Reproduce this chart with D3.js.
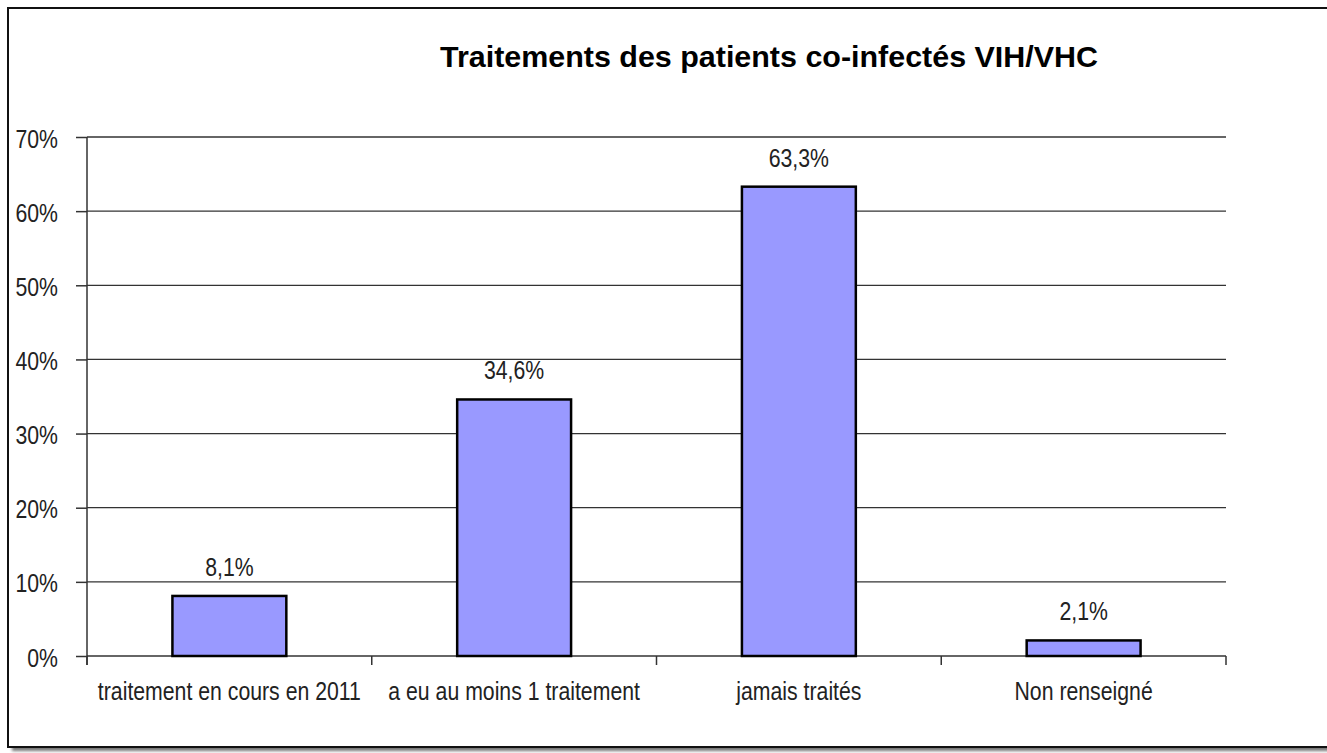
<!DOCTYPE html>
<html>
  <head>
    <meta charset="utf-8">
    <title>Traitements des patients co-infectés VIH/VHC</title>
    <script src="https://d3js.org/d3.v7.min.js"></script>
    <style>
      body { margin: 0; background: white; }
      svg { display: block; font-family: "Liberation Sans", Arial, sans-serif; }
      .grid line { stroke: #333; stroke-width: 1.3; }
      .axis path, .axis line { stroke: #333; stroke-width: 1.5; }
      .axis text { fill: #222; font-size: 25px; }
      .bar { fill: #9999FF; stroke: #000; stroke-width: 2.5; }
      .val { fill: #222; font-size: 25px; text-anchor: middle; }
    </style>
  </head>
  <body>
    <svg id="chart" width="1327" height="753"></svg>
    <script>
      // data
      const categories = ["traitement en cours en 2011", "a eu au moins 1 traitement", "jamais traités", "Non renseigné"];
      const values = [8.1, 34.6, 63.3, 2.1];
      const yTicks = [0, 10, 20, 30, 40, 50, 60, 70];
      const chartTitle = "Traitements des patients co-infectés VIH/VHC";

      const svg = d3.select("#chart");
      const plotLeft = 87, plotRight = 1226, plotTop = 137, plotBottom = 656;
      const squeeze = 0.85;

      // frame with shadow
      const defs = svg.append("defs");
      defs.append("filter").attr("id", "blur")
        .append("feGaussianBlur").attr("stdDeviation", 1.5);
      svg.append("rect")
        .attr("x", 12).attr("y", 12).attr("width", 1340).attr("height", 739)
        .attr("fill", "#777").attr("filter", "url(#blur)");
      svg.append("rect")
        .attr("x", 8).attr("y", 8).attr("width", 1340).attr("height", 739)
        .attr("fill", "white").attr("stroke", "#111").attr("stroke-width", 2);

      // scales
      const x = d3.scaleBand().domain(categories).range([plotLeft, plotRight]).padding(0);
      const y = d3.scaleLinear().domain([0, 70]).range([plotBottom, plotTop]);
      const barW = x.bandwidth() * 0.4;

      // gridlines
      svg.append("g").attr("class", "grid")
        .selectAll("line")
          .data(yTicks.filter(function(d) { return d > 0; }))
        .enter().append("line")
          .attr("x1", plotLeft).attr("x2", plotRight)
          .attr("y1", function(d) { return y(d); })
          .attr("y2", function(d) { return y(d); });

      // y axis
      const yAxis = svg.append("g").attr("class", "axis")
        .attr("transform", "translate(" + plotLeft + ",0)")
        .call(d3.axisLeft(y).tickValues(yTicks).tickSize(11).tickPadding(18)
          .tickFormat(function(d) { return d + "%"; }));
      yAxis.select(".domain").attr("d", "M0," + plotTop + "V" + (plotBottom + 9));
      yAxis.selectAll("text").attr("dy", "0.4em");

      // x axis
      const xAxis = svg.append("g").attr("class", "axis")
        .attr("transform", "translate(0," + plotBottom + ")")
        .call(d3.axisBottom(x).tickSize(0).tickPadding(33));
      xAxis.select(".domain").attr("d", "M" + plotLeft + ",0H" + plotRight);
      xAxis.selectAll(".sep")
          .data(d3.range(categories.length + 1))
        .enter().append("line")
          .attr("class", "sep")
          .attr("x1", function(i) { return plotLeft + i * x.step(); })
          .attr("x2", function(i) { return plotLeft + i * x.step(); })
          .attr("y1", 0).attr("y2", 9);
      xAxis.selectAll("text").attr("dy", "0.45em");

      // bars
      svg.append("g").selectAll(".bar")
          .data(values)
        .enter().append("rect")
          .attr("class", "bar")
          .attr("x", function(d, i) { return x(categories[i]) + (x.bandwidth() - barW) / 2; })
          .attr("y", function(d) { return y(d); })
          .attr("width", barW)
          .attr("height", function(d) { return y(0) - y(d); });

      // value labels
      svg.append("g").selectAll(".val")
          .data(values)
        .enter().append("text")
          .attr("class", "val")
          .attr("x", function(d, i) { return x(categories[i]) + x.bandwidth() / 2; })
          .attr("y", function(d) { return y(d) - 20; })
          .text(function(d) { return d3.format(".1f")(d).replace(".", ",") + "%"; });

      // title
      svg.append("text")
        .attr("x", 769).attr("y", 67)
        .attr("text-anchor", "middle")
        .style("font-size", "30px").style("font-weight", "bold").style("fill", "#000")
        .text(chartTitle)
        .attr("textLength", 658).attr("lengthAdjust", "spacingAndGlyphs");

      // condense the regular texts a little
      svg.selectAll(".axis text, .val").each(function() {
        d3.select(this)
          .attr("textLength", this.getComputedTextLength() * squeeze)
          .attr("lengthAdjust", "spacingAndGlyphs");
      });
    </script>
  </body>
</html>
